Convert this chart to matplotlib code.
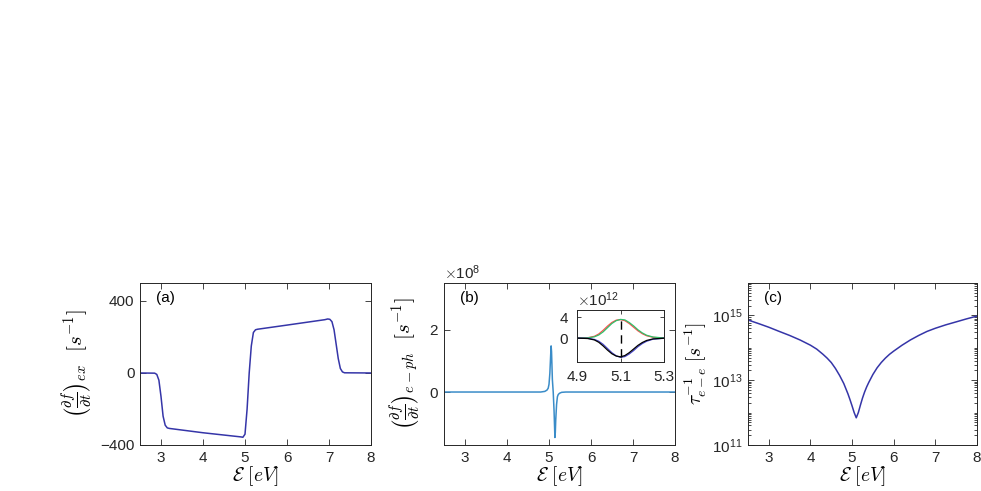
import numpy as np
import matplotlib
matplotlib.use("Agg")
import matplotlib.pyplot as plt
from matplotlib.ticker import LogLocator, NullFormatter

plt.rcParams['font.family'] = ['Liberation Sans', 'DejaVu Sans']
plt.rcParams['mathtext.fontset'] = 'cm'

# panel (a): (df/dt)_ex  [s^-1]
ea = [2.5, 2.85, 2.9, 2.95, 3.0, 3.05, 3.1, 3.15, 3.2, 4.0, 4.9, 4.95, 5.0,
      5.05, 5.1, 5.15, 5.2, 5.25, 5.3, 6.0, 6.9, 6.97, 7.02, 7.07, 7.12,
      7.17, 7.22, 7.27, 7.32, 7.37, 8.0]
dfa = [0, -1, -8, -40, -130, -240, -290, -305, -308, -332, -355, -357, -340,
       -200, 0, 150, 225, 240, 243, 266, 296, 300, 298, 285, 240, 160,
       80, 25, 6, 1, 0]

# panel (b): (df/dt)_e-ph  [s^-1]
eb = [2.5, 4.8, 4.9, 4.95, 4.98, 5.0, 5.02, 5.04, 5.05, 5.06, 5.08, 5.1,
      5.12, 5.14, 5.15, 5.16, 5.18, 5.2, 5.22, 5.25, 5.3, 5.4, 8.0]
dfb = [0, 0, 0.02e8, 0.06e8, 0.12e8, 0.25e8, 0.6e8, 1.2e8, 1.48e8, 1.3e8,
       0.4e8, 0, -0.6e8, -1.46e8, -1.3e8, -0.9e8, -0.4e8, -0.15e8, -0.08e8,
       -0.04e8, -0.01e8, 0, 0]

# inset of (b)
ei = [4.9, 4.95, 4.98, 5.0, 5.02, 5.04, 5.06, 5.08, 5.1, 5.12, 5.14, 5.16,
      5.18, 5.2, 5.22, 5.25, 5.3]
red = [0, 0.08, 0.35, 0.8, 1.5, 2.3, 3.0, 3.45, 3.55, 3.35, 2.8, 2.1, 1.4,
       0.85, 0.45, 0.15, 0.02]
green = [0, 0.05, 0.25, 0.6, 1.2, 2.0, 2.8, 3.35, 3.6, 3.5, 3.0, 2.35, 1.6,
         1.0, 0.55, 0.2, 0.03]
blue = [0, -0.05, -0.25, -0.6, -1.2, -2.0, -2.8, -3.4, -3.7, -3.55, -3.05,
        -2.4, -1.65, -1.05, -0.6, -0.2, -0.03]
black = [0, -0.08, -0.35, -0.8, -1.5, -2.3, -3.0, -3.45, -3.6, -3.35, -2.8,
         -2.1, -1.4, -0.85, -0.45, -0.15, -0.02]

# panel (c): tau_e-e^-1  [s^-1]
ec = [2.5, 2.75, 3.0, 3.25, 3.5, 3.75, 4.0, 4.15, 4.3, 4.4, 4.5, 4.6, 4.7,
      4.8, 4.9, 4.95, 5.0, 5.05, 5.1, 5.15, 5.2, 5.25, 5.3, 5.35, 5.4, 5.5,
      5.6, 5.7, 5.8, 5.9, 6.0, 6.2, 6.4, 6.6, 6.8, 7.0, 7.25, 7.5, 7.75, 8.0]
rate = [7.2e14, 5.6e14, 4.3e14, 3.2e14, 2.4e14, 1.74e14, 1.2e14, 9.1e13,
        6.3e13, 4.8e13, 3.5e13, 2.3e13, 1.4e13, 7.9e12, 3.8e12, 2.5e12,
        1.6e12, 1.0e12, 6.9e11, 1.0e12, 1.7e12, 2.8e12, 4.3e12, 6.2e12,
        8.5e12, 1.5e13, 2.4e13, 3.5e13, 4.8e13, 6.3e13, 7.9e13, 1.2e14,
        1.74e14, 2.4e14, 3.2e14, 4.0e14, 5.1e14, 6.3e14, 7.8e14, 9.5e14]

xlab = r'$\mathcal{E}\ [eV]$'
edge = '#262626'


def style(ax):
    ax.tick_params(direction='in', top=True, right=True, length=4,
                   width=0.6, labelsize=11, colors=edge, pad=4)
    ax.tick_params(which='minor', direction='in', right=True, length=2,
                   width=0.5)
    for s in ax.spines.values():
        s.set_linewidth(0.7)
        s.set_color(edge)


fig = plt.figure(figsize=(9.81, 4.91), dpi=100)

# (a)
ax1 = fig.add_axes([0.1427, 0.0937, 0.2355, 0.33])
ax1.plot(ea, dfa, color='#3535a8', lw=1.1)
ax1.set_xlim(2.5, 8)
ax1.set_ylim(-400, 500)
ax1.set_xticks([3, 4, 5, 6, 7, 8])
ax1.set_yticks([-400, 0, 400])
ax1.set_xlabel(xlab, fontsize=14, labelpad=0)
ax1.set_ylabel(r'$\left(\frac{\partial f}{\partial t}\right)_{ex}\ \ [s^{-1}]$',
               fontsize=15, labelpad=4)
ax1.text(0.07, 0.88, '(a)', transform=ax1.transAxes, fontsize=11)
style(ax1)

# (b)
ax2 = fig.add_axes([0.4526, 0.0937, 0.2355, 0.33])
ax2.plot(eb, dfb, color='#3a8cc8', lw=1.1)
ax2.set_xlim(2.5, 8)
ax2.set_ylim(-1.7e8, 3.5e8)
ax2.set_xticks([3, 4, 5, 6, 7, 8])
ax2.set_yticks([0, 2e8])
ax2.ticklabel_format(axis='y', style='sci', scilimits=(0, 0), useMathText=True)
ax2.yaxis.get_offset_text().set_fontsize(11)
ax2.set_xlabel(xlab, fontsize=14, labelpad=0)
ax2.set_ylabel(r'$\left(\frac{\partial f}{\partial t}\right)_{e-ph}\ \ [s^{-1}]$',
               fontsize=15, labelpad=4)
ax2.text(0.07, 0.88, '(b)', transform=ax2.transAxes, fontsize=11)
style(ax2)

# inset
axi = fig.add_axes([0.5882, 0.2637, 0.0887, 0.1049])
axi.plot(ei, np.array(red) * 1e12, color='#ff4b4b', lw=0.9)
axi.plot(ei, np.array(green) * 1e12, color='#2fbf6a', lw=0.9)
axi.plot(ei, np.array(blue) * 1e12, color='#4646c8', lw=0.9)
axi.plot(ei, np.array(black) * 1e12, color='k', lw=0.9)
axi.plot([5.1, 5.1], [-3.7e12, 3.7e12], color='k', lw=1.0, ls=(0, (6, 4)))
axi.set_xlim(4.9, 5.3)
axi.set_ylim(-4.5e12, 5.4e12)
axi.set_xticks([4.9, 5.1, 5.3])
axi.set_yticks([0, 4e12])
axi.ticklabel_format(axis='y', style='sci', scilimits=(0, 0), useMathText=True)
axi.yaxis.get_offset_text().set_fontsize(11)
style(axi)
axi.tick_params(length=3, pad=6)

# (c)
ax3 = fig.add_axes([0.7625, 0.0937, 0.2334, 0.33])
ax3.plot(ec, rate, color='#3535a8', lw=1.1)
ax3.set_yscale('log')
ax3.set_xlim(2.5, 8)
ax3.set_ylim(1e11, 1e16)
ax3.set_xticks([3, 4, 5, 6, 7, 8])
ax3.set_yticks([1e11, 1e13, 1e15])
ax3.yaxis.set_minor_locator(LogLocator(base=10, subs=np.arange(1, 10), numticks=20))
ax3.yaxis.set_minor_formatter(NullFormatter())
ax3.set_xlabel(xlab, fontsize=14, labelpad=0)
ax3.set_ylabel(r'$\tau_{e-e}^{-1}\ [s^{-1}]$', fontsize=14, labelpad=2)
ax3.text(0.07, 0.88, '(c)', transform=ax3.transAxes, fontsize=11)
style(ax3)

fig.savefig('out.png', dpi=100)
